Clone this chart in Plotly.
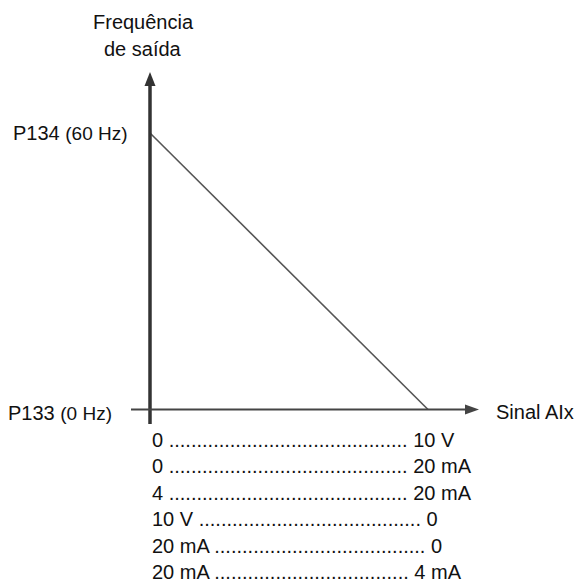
import plotly.graph_objects as go

# ---- data ----
signal_x = [0, 10]          # AIx signal (0 .. full scale)
freq_y = [60, 0]            # output frequency (Hz): P134 at 0, P133 at full scale
y_axis_title = ["Frequência", "de saída"]
x_axis_title = "Sinal AIx"
tick_labels = ["P134 <span style='font-size:19px'>(60 Hz)</span>",
               "P133 <span style='font-size:19px'>(0 Hz)</span>"]
tick_values = [60, 0]
row_left = ["0", "0", "4", "10 V", "20 mA", "20 mA"]
row_right = ["10 V", "20 mA", "20 mA", "0", "0", "4 mA"]
row_dots = [43, 43, 43, 40, 38, 35]

W, H = 575, 582
# pixel mapping of the data axes
X0PX, X10PX = 150, 428
Y0PX, Y60PX = 409.5, 133
sx = (X10PX - X0PX) / 10.0
sy = (Y0PX - Y60PX) / 60.0
xr = [-X0PX / sx, (W - X0PX) / sx]
yr = [-(H - Y0PX) / sy, Y0PX / sy]

def px(x):
    return x / W

def py(y):
    return 1 - y / H

FONT = "Liberation Sans, Arial, sans-serif"

fig = go.Figure()
fig.add_trace(go.Scatter(x=signal_x, y=freq_y, mode="lines",
                         line=dict(color="#555555", width=1.6),
                         hoverinfo="skip", showlegend=False, cliponaxis=False))

shapes = []
# y axis line
shapes.append(dict(type="line", xref="paper", yref="paper",
                   x0=px(150), x1=px(150), y0=py(424), y1=py(82),
                   line=dict(color="#333333", width=3.5)))
# y arrow head
shapes.append(dict(type="path", xref="paper", yref="paper",
                   path=f"M {px(150)} {py(72)} L {px(144.5)} {py(86)} L {px(155.5)} {py(86)} Z",
                   fillcolor="#333333", line=dict(width=0)))
# x axis line
shapes.append(dict(type="line", xref="paper", yref="paper",
                   x0=px(131), x1=px(468), y0=py(409.5), y1=py(409.5),
                   line=dict(color="#444444", width=2)))
# x arrow head
shapes.append(dict(type="path", xref="paper", yref="paper",
                   path=f"M {px(479)} {py(409.5)} L {px(465)} {py(404.5)} L {px(465)} {py(414.5)} Z",
                   fillcolor="#444444", line=dict(width=0)))

ann = []
# y title
for i, t in enumerate(y_axis_title):
    ann.append(dict(text=t, xref="paper", yref="paper", x=px(143), y=py(22 + 26.5 * i),
                    xanchor="center", yanchor="middle", showarrow=False,
                    font=dict(size=20, color="#111111", family=FONT)))
# tick labels on y
label_right_px = [130, 114]
for lab, v, rx in zip(tick_labels, tick_values, label_right_px):
    ann.append(dict(text=lab, xref="paper", yref="y", x=px(rx), y=v,
                    xanchor="right", yanchor="middle", showarrow=False,
                    yshift=-3 if v == 0 else 0,
                    font=dict(size=20, color="#111111", family=FONT)))
# x title
ann.append(dict(text=x_axis_title, xref="paper", yref="paper", x=px(494), y=py(412),
                xanchor="left", yanchor="middle", showarrow=False,
                font=dict(size=20, color="#111111", family=FONT)))
# table rows
for i, (l, r, n) in enumerate(zip(row_left, row_right, row_dots)):
    txt = f"{l} {'.' * n} {r}"
    ann.append(dict(text=txt, xref="paper", yref="paper", x=px(150), y=py(439.5 + 26.5 * i),
                    xanchor="left", yanchor="middle", showarrow=False,
                    font=dict(size=20, color="#111111", family=FONT)))

fig.update_layout(
    width=W, height=H,
    margin=dict(l=0, r=0, t=0, b=0),
    paper_bgcolor="white", plot_bgcolor="white",
    xaxis=dict(visible=False, range=xr, fixedrange=True),
    yaxis=dict(visible=False, range=yr, fixedrange=True),
    shapes=shapes, annotations=ann, showlegend=False,
)
fig.write_html("out.html",
               config={"displayModeBar": False, "staticPlot": True},
               post_script="document.body.style.margin='0';document.body.style.overflow='hidden';")
